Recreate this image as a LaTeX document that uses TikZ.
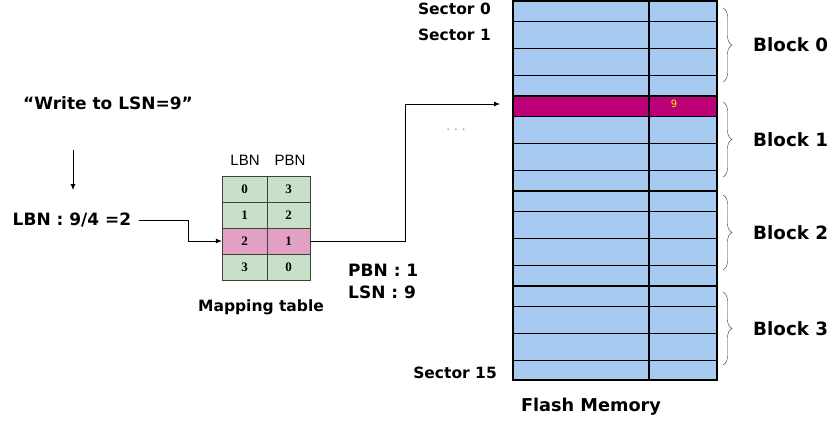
\documentclass[tikz,border=0pt]{standalone}
\usepackage{fontspec}
\setmainfont{DejaVu Sans}
\newfontfamily\tabfont{Liberation Serif}
\newfontfamily\headfont{Liberation Sans}
\usetikzlibrary{arrows.meta, decorations.pathreplacing}

\definecolor{flashblue}{RGB}{166,202,240}
\definecolor{sectmag}{RGB}{190,0,120}
\definecolor{mapgreen}{RGB}{199,224,199}
\definecolor{mappink}{RGB}{226,160,196}

\begin{document}
\begin{tikzpicture}[
                x = 1pt, y = -1pt,
                txt/.style = {font = \bfseries\fontsize{17}{20}\selectfont, inner sep = 2pt},
                sect/.style = {font = \bfseries\fontsize{15.5}{18}\selectfont, inner sep = 2pt},
                big/.style = {font = \bfseries\fontsize{18.3}{22}\selectfont, inner sep = 2pt},
                head/.style = {font = \headfont\fontsize{15}{18}\selectfont, inner sep = 0pt},
                cell/.style = {draw = black!75, fill = mapgreen, inner sep = 0pt, minimum height = 26pt,
                               font = \tabfont\bfseries\fontsize{13}{14}\selectfont},
                hot/.style = {cell, fill = mappink},
                arr/.style = {draw, line width = 0.8pt, -{Latex[length = 6pt, width = 5pt]}},
                brc/.style = {draw = black!80, decorate, decoration = {brace, amplitude = 9pt}},
            ]
            \useasboundingbox (0, 0) rectangle (834, 423);

            % request and block number
            \node (write) at (108, 103) [txt] {“Write to LSN=9”};
            \node (lbn) at (72, 220) [txt] {LBN : 9/4 =2};
            \coordinate (down) at (73, 150);
            \path[arr] (down) -- ++(0, 40);

            % mapping table
            \node (hL) at (245, 160) [head] {LBN};
            \node (hP) at (290, 160) [head] {PBN};
            \node (L0) at (244.5, 189) [cell, minimum width = 45pt] {0};
            \node (P0) at (288.5, 189) [cell, minimum width = 43pt] {3};
            \node (L1) at (244.5, 215) [cell, minimum width = 45pt] {1};
            \node (P1) at (288.5, 215) [cell, minimum width = 43pt] {2};
            \node (L2) at (244.5, 241) [hot, minimum width = 45pt] {2};
            \node (P2) at (288.5, 241) [hot, minimum width = 43pt] {1};
            \node (L3) at (244.5, 267) [cell, minimum width = 45pt] {3};
            \node (P3) at (288.5, 267) [cell, minimum width = 43pt] {0};
            \node (maptxt) at (261, 307) [sect] {Mapping table};

            \coordinate (bend) at (188, 220);
            \path[arr, shorten <= 6pt] (lbn.east) -- (bend) |- (L2.west);

            \node (pbn) at (346, 270) [txt, anchor = west] {PBN : 1};
            \node (lsn) at (346, 292) [txt, anchor = west] {LSN : 9};
            \node (dots) at (456, 130) [font = \fontsize{12}{14}\selectfont, text = black!45] {.\,\,.\,\,.};

            \coordinate (turn) at (405, 104);
            \coordinate (tip) at (500, 104);
            \path[arr] (P2.east) -| (turn) -- (tip);

            % flash memory
            \fill[flashblue] (513, 1) rectangle (717, 380);
            \fill[sectmag] (513, 96) rectangle (717, 116);
            \foreach \b in {0, 1, 2, 3}
                \foreach \o in {20, 47, 74}
                    \draw[line width = 0.8pt] (513, 1 + 95 * \b + \o) -- (717, 1 + 95 * \b + \o);
            \foreach \b in {1, 2, 3}
                \draw[line width = 1.6pt] (513, 1 + 95 * \b) -- (717, 1 + 95 * \b);
            \draw[line width = 1.6pt] (649, 1) -- (649, 380);
            \draw[line width = 2pt] (513, 1) rectangle (717, 380);
            \node (nine) at (674, 104) [font = \fontsize{10}{12}\selectfont, text = yellow] {9};

            \node (s0) at (493, 9) [sect, anchor = east] {Sector 0};
            \node (s1) at (493, 35) [sect, anchor = east] {Sector 1};
            \node (s15) at (499, 373) [sect, anchor = east] {Sector 15};
            \node (flashtxt) at (591, 407) [big, font = \bfseries\fontsize{17.7}{21}\selectfont] {Flash Memory};

            % blocks
            \draw[brc] (723, 8) -- node[midway, anchor = west, xshift = 28pt, big] {Block 0} (723, 82);
            \draw[brc] (723, 102) -- node[midway, anchor = west, xshift = 28pt, big] {Block 1} (723, 177);
            \draw[brc] (723, 195) -- node[midway, anchor = west, xshift = 28pt, big] {Block 2} (723, 270);
            \draw[brc] (723, 292) -- node[midway, anchor = west, xshift = 28pt, big] {Block 3} (723, 365);
        \end{tikzpicture}
\end{document}
